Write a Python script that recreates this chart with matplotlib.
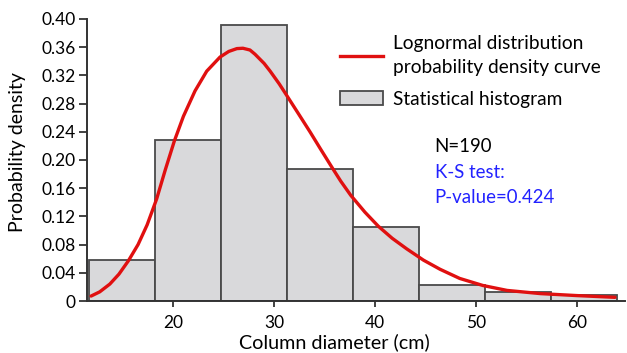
import matplotlib.pyplot as plt
from matplotlib.lines import Line2D
from matplotlib.patches import Patch

plt.rcParams.update({
    "font.family": ["Lato", "DejaVu Sans"],
    "font.size": 12.5,
})

# histogram (bin edges in cm, probability per bin)
bin_edges = [11.6, 18.15, 24.7, 31.25, 37.8, 44.35, 50.9, 57.45, 64.0]
bin_heights = [0.058, 0.228, 0.392, 0.187, 0.105, 0.022, 0.013, 0.008]

# lognormal curve
curve_x = [11.84, 12.7, 13.7, 14.6, 15.54, 16.5, 17.4, 18.35, 19.2, 20.1,
           21.0, 22.15, 23.31, 24.63, 25.5, 26.3, 26.9, 27.6, 28.1, 29.0,
           29.6, 30.5, 31.09, 32.39, 33.55, 34.6, 35.71, 36.6, 37.59, 39.0,
           40.33, 41.7, 43.14, 44.8, 46.45, 48.4, 50.7, 53.1, 56.4, 60.0, 63.8]
curve_y = [0.007, 0.013, 0.024, 0.038, 0.057, 0.080, 0.108, 0.145, 0.186, 0.227,
           0.262, 0.298, 0.326, 0.346, 0.354, 0.358, 0.3585, 0.356, 0.350, 0.337,
           0.326, 0.308, 0.295, 0.266, 0.240, 0.2155, 0.190, 0.170, 0.150, 0.126,
           0.106, 0.089, 0.074, 0.058, 0.045, 0.032, 0.022, 0.015, 0.0105, 0.0077, 0.0052]

y_ticks = [0, 0.04, 0.08, 0.12, 0.16, 0.20, 0.24, 0.28, 0.32, 0.36, 0.40]
y_tick_labels = ["0", "0.04", "0.08", "0.12", "0.16", "0.20", "0.24", "0.28", "0.32", "0.36", "0.40"]
x_ticks = [20, 30, 40, 50, 60]

fig = plt.figure(figsize=(6.27, 3.53), dpi=100, facecolor="white")
ax = fig.add_axes([0.1388, 0.1473, 0.858, 0.7989])

widths = [b - a for a, b in zip(bin_edges[:-1], bin_edges[1:])]
ax.bar(bin_edges[:-1], bin_heights, width=widths, align="edge",
       color="#d9d9db", edgecolor="#4a4a4a", linewidth=1.3, zorder=2)
ax.plot(curve_x, curve_y, color="#e01010", lw=2.4, zorder=3,
        solid_capstyle="round", solid_joinstyle="round")

ax.set_xlim(11.44, 64.79)
ax.set_ylim(0, 0.40)
ax.set_yticks(y_ticks)
ax.set_yticklabels(y_tick_labels)
ax.set_xticks(x_ticks)

for s in ["top", "right"]:
    ax.spines[s].set_visible(False)
for s in ["left", "bottom"]:
    ax.spines[s].set_color("#333333")
    ax.spines[s].set_linewidth(1.4)
ax.spines["left"].set_zorder(4)
ax.tick_params(axis="y", length=6, width=1.3, color="#333333", pad=2, labelsize=12.5)
ax.tick_params(axis="x", length=4, width=1.3, color="#333333", pad=6, labelsize=12.5)

ax.set_xlabel("Column diameter (cm)", fontsize=14.2)
ax.set_ylabel("Probability density", fontsize=14)
ax.xaxis.set_label_coords(0.459, -0.113)
ax.yaxis.set_label_coords(-0.113, 0.528)

handles = [Line2D([], [], color="#e01010", lw=2.4),
           Patch(facecolor="#d9d9db", edgecolor="#4a4a4a", linewidth=1.3)]
labels = ["Lognormal distribution\nprobability density curve", "Statistical histogram"]
leg = fig.legend(handles, labels, loc="upper left", bbox_to_anchor=(0.543, 0.902),
                 frameon=False, fontsize=13.8, handlelength=2.2, handleheight=0.7,
                 handletextpad=0.55, labelspacing=0.75, borderaxespad=0, borderpad=0)
for t in leg.get_texts():
    t.set_linespacing(1.55)

fig.text(0.693, 0.584, "N=190", fontsize=13.4, color="black", va="center")
fig.text(0.693, 0.511, "K-S test:", fontsize=13.4, color="#2222ff", va="center")
fig.text(0.693, 0.440, "P-value=0.424", fontsize=13.4, color="#2222ff", va="center")

fig.savefig("out.png", dpi=100, facecolor="white")
